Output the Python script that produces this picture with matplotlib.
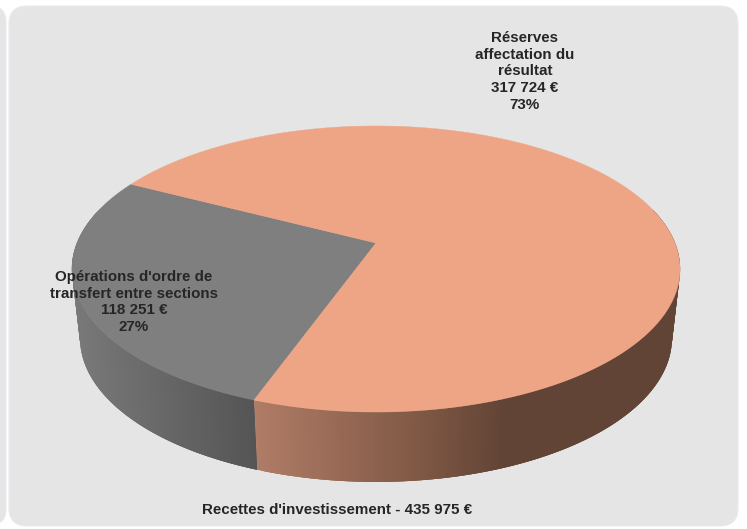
import numpy as np
import matplotlib.pyplot as plt
from matplotlib.patches import FancyBboxPatch, Polygon

plt.rcParams['font.family'] = ['Liberation Sans', 'DejaVu Sans']

# Data
values = [118251, 317724]
start_angle = 152.6
top_colors = ['#7F7F7F', '#EEA585']
label_ops = "Opérations d'ordre de\ntransfert entre sections\n118 251 €\n27%"
label_res = "Réserves\naffectation du\nrésultat\n317 724 €\n73%"
footer = "Recettes d'investissement - 435 975 €"

# colour of the side wall along x (pixels), one ramp per slice
grey_ramp_x = [80, 160, 256]
grey_ramp_c = ['#787878', '#686868', '#545454']
orange_ramp_x = [253, 330, 420, 500, 680]
orange_ramp_c = ['#B07D67', '#9A6B57', '#7E5844', '#624436', '#624436']

W, H = 747, 529
fig = plt.figure(figsize=(W / 100, H / 100), dpi=100, facecolor='white')
ax = fig.add_axes([0, 0, 1, 1])
ax.set_xlim(0, W)
ax.set_ylim(H, 0)
ax.axis('off')


def panel(x0, y0, x1, y1, r):
    ax.add_patch(FancyBboxPatch((x0 + r, y0 + r), x1 - x0 - 2 * r, y1 - y0 - 2 * r,
                                boxstyle='round,pad=%d,rounding_size=%d' % (r, r),
                                fc='#E5E5E5', ec='#E8EBEF', lw=0.8))


panel(-40, 6, 6, 525, 16)
panel(9, 6, 738, 526, 18)

# perspective projection of a unit circle, apex at (cx, cy)
cx, cy = 376, 243
persp = 0.1818


def rim(angles, a, b, dy):
    t = np.radians(angles)
    u, v = np.cos(t), np.sin(t)
    w = 1 + persp * v
    return cx + a * u / w, cy + dy - b * v / w


def to_rgb(c):
    return np.array([int(c[i:i + 2], 16) for i in (1, 3, 5)]) / 255


def ramp(x, xs, cs):
    rgb = np.array([to_rgb(c) for c in cs])
    return [np.interp(x, xs, rgb[:, i]) for i in range(3)]


spans = np.array(values) / sum(values) * 360
grey_a = np.linspace(start_angle, start_angle + spans[0], 400)
orange_a = np.linspace(start_angle + spans[0], start_angle + 360, 1000)

# side walls, overlapping strips painted in order so no seams show
for angs, xs, cs, n in [(grey_a, grey_ramp_x, grey_ramp_c, 120), (orange_a, orange_ramp_x, orange_ramp_c, 200)]:
    angs = angs[np.sin(np.radians(angs)) < 0.25]
    angs = np.linspace(angs[0], angs[-1], n)
    tx, ty = rim(angs, 299, 138.3, 0)
    bx, by = rim(angs, 291, 139, 69)
    for i in range(n - 1):
        j = min(i + 3, n - 1)
        px = list(tx[i:j + 1]) + list(bx[i:j + 1][::-1])
        py = list(ty[i:j + 1]) + list(by[i:j + 1][::-1])
        col = ramp((tx[i] + bx[i]) / 2, xs, cs)
        ax.add_patch(Polygon(list(zip(px, py)), fc=col, ec='none'))

# top face
for angs, col in [(grey_a, top_colors[0]), (orange_a, top_colors[1])]:
    x, y = rim(angs, 299, 138.3, 0)
    pts = [(cx, cy)] + list(zip(x, y))
    ax.add_patch(Polygon(pts, fc=col, ec=col, lw=0.3))

txt = dict(ha='center', color='#262626', fontweight='bold', fontsize=10.9, linespacing=1.24)
ax.text(525, 31, label_res, va='top', **txt)
ax.text(134, 270, label_ops, va='top', **txt)
ax.text(337, 510, footer, va='center', **txt)

fig.savefig('out.png', dpi=100)
